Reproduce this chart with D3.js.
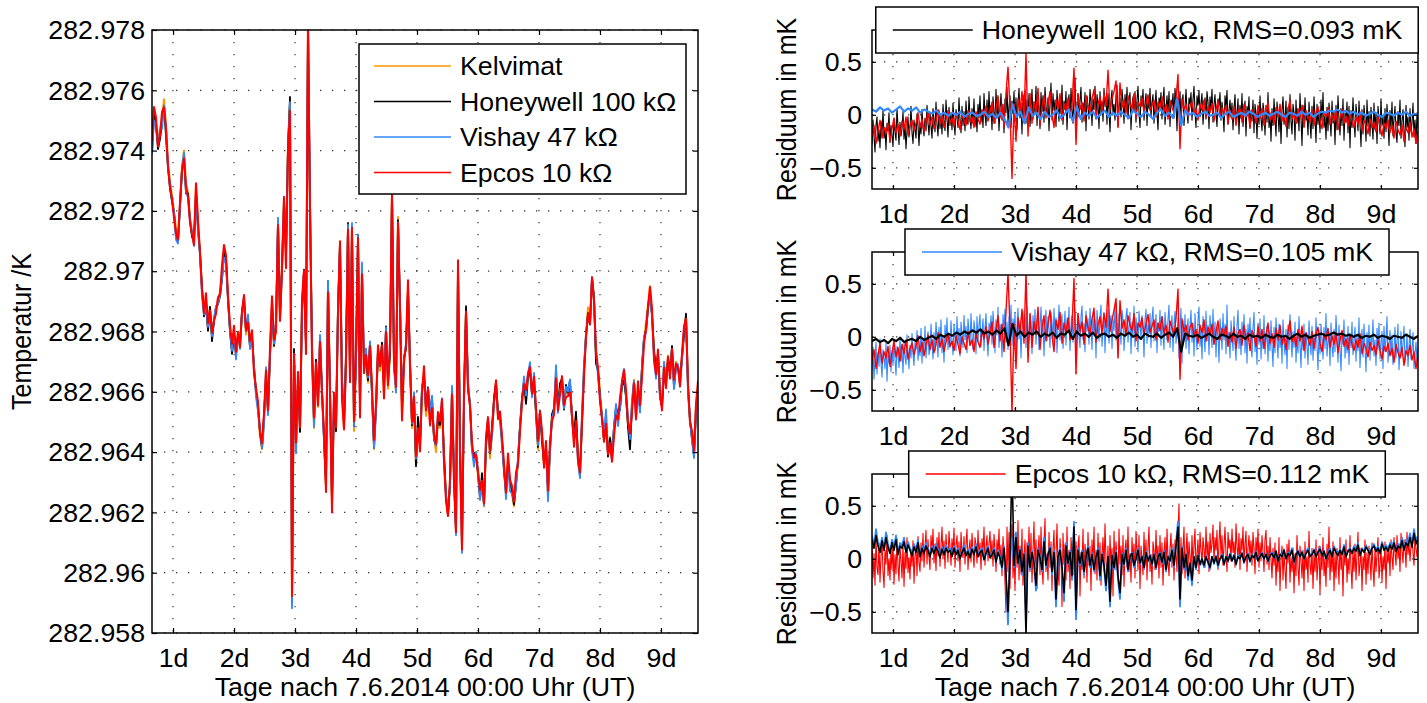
<!DOCTYPE html>
<html>
<head>
<meta charset="utf-8">
<script src="https://cdn.jsdelivr.net/npm/d3@7"></script>
<style>
html, body { margin: 0; padding: 0; background: #fff; }
svg { display: block; }
</style>
</head>
<body>
<svg id="fig" width="1427" height="703"></svg>
<script>
// ---- record span (days after 7.6.2014 00:00 UT), samples evenly spaced over it ----
const tStart = 0.655, tEnd = 9.607;
const dayTicks = [1, 2, 3, 4, 5, 6, 7, 8, 9];
const tempTicks = [282.958, 282.96, 282.962, 282.964, 282.966, 282.968, 282.97, 282.972, 282.974, 282.976, 282.978];
const resTicks = [-0.5, 0, 0.5];
const tempDomain = [282.958, 282.978];
const resDomain = [-0.7, 0.8];

const sensorNames = ["Kelvimat", "Honeywell 100 kΩ", "Vishay 47 kΩ", "Epcos 10 kΩ"];
const rmsValues = [0.093, 0.105, 0.112];   // mK, Honeywell / Vishay / Epcos

// Kelvimat reference temperature in K
const kelvimat = [
282.9742,282.9754,282.9749,282.9743,282.9747,282.9751,282.9757,282.9748,282.9736,282.9730,
282.9725,282.9720,282.9714,282.9711,282.9722,282.9735,282.9740,282.9729,282.9726,282.9718,
282.9713,282.9711,282.9728,282.9715,282.9707,282.9694,282.9687,282.9690,282.9681,282.9688,
282.9679,282.9684,282.9687,282.9691,282.9693,282.9699,282.9707,282.9703,282.9692,282.9681,
282.9674,282.9679,282.9672,282.9680,282.9676,282.9686,282.9690,282.9679,282.9684,282.9675,
282.9678,282.9667,282.9660,282.9654,282.9645,282.9641,282.9650,282.9666,282.9654,282.9672,
282.9690,282.9675,282.9681,282.9715,282.9684,282.9702,282.9724,282.9706,282.9742,282.9756,
282.9589,282.9672,282.9641,282.9663,282.9647,282.9688,282.9700,282.9676,282.9782,282.9722,
282.9674,282.9648,282.9668,282.9655,282.9678,282.9660,282.9645,282.9628,282.9695,282.9660,
282.9623,282.9657,282.9648,282.9687,282.9708,282.9662,282.9648,282.9671,282.9715,282.9666,
282.9714,282.9647,282.9672,282.9710,282.9655,282.9700,282.9668,282.9672,282.9663,282.9674,
282.9660,282.9641,282.9655,282.9673,282.9667,282.9675,282.9659,282.9680,282.9661,282.9674,
282.9725,282.9668,282.9660,282.9718,282.9688,282.9652,282.9672,282.9674,282.9694,282.9668,
282.9648,282.9657,282.9636,282.9649,282.9643,282.9660,282.9666,282.9652,282.9660,282.9650,
282.9657,282.9645,282.9640,282.9652,282.9648,282.9656,282.9637,282.9625,282.9619,282.9630,
282.9660,282.9632,282.9613,282.9701,282.9641,282.9609,282.9658,282.9686,282.9662,282.9655,
282.9641,282.9637,282.9640,282.9632,282.9625,282.9631,282.9622,282.9642,282.9650,282.9638,
282.9646,282.9657,282.9663,282.9652,282.9650,282.9643,282.9635,282.9626,282.9637,282.9629,
282.9626,282.9622,282.9630,282.9636,282.9648,282.9656,282.9663,282.9658,282.9665,282.9668,
282.9660,282.9664,282.9653,282.9641,282.9652,282.9645,282.9636,282.9641,282.9626,282.9641,
282.9652,282.9653,282.9667,282.9655,282.9662,282.9664,282.9655,282.9661,282.9659,282.9662,
282.9653,282.9645,282.9652,282.9638,282.9632,282.9652,282.9668,282.9679,282.9688,282.9683,
282.9697,282.9690,282.9672,282.9668,282.9660,282.9652,282.9645,282.9652,282.9640,282.9645,
282.9638,282.9648,282.9654,282.9651,282.9656,282.9663,282.9666,282.9659,282.9650,282.9644,
282.9656,282.9664,282.9653,282.9661,282.9656,282.9668,282.9677,282.9683,282.9689,282.9695,
282.9686,282.9673,282.9667,282.9672,282.9660,282.9656,282.9669,282.9664,282.9672,282.9666,
282.9674,282.9662,282.9670,282.9668,282.9663,282.9672,282.9680,282.9685,282.9662,282.9650,
282.9645,282.9641,282.9655,282.9662];

// Residuals in mK, panel 1 (Honeywell fit)
const hwPanelBlack = [
-.28,-.05,-.2,-.35,-.1,-.02,-.25,-.14,-.31,-.06,-.18,.04,-.22,-.12,-.33,-.08,-.15,.02,-.26,-.1,
-.19,-.3,-.04,-.16,-.24,.06,-.11,-.28,-.07,-.2,-.13,.03,-.23,-.09,-.32,-.15,-.02,-.21,-.12,.08,
-.17,-.27,-.05,-.14,-.22,.01,-.1,-.29,-.08,-.18,.05,-.12,-.2,-.03,-.15,.09,-.08,-.19,.02,-.11,
-.22,.06,-.05,-.16,.12,-.09,-.2,.04,-.13,-.01,-.18,.1,-.06,-.15,.14,-.03,-.21,.07,-.1,.02,
-.14,.11,-.07,-.19,.05,-.02,-.12,.16,-.05,-.17,.08,-.1,.03,-.15,.13,-.04,-.09,.17,-.02,-.13,
.06,-.08,.15,-.11,.02,-.16,.1,-.03,.18,-.07,.04,-.12,.2,.01,-.1,.14,-.05,.22,-.02,.09,
-.14,.17,.03,-.08,.24,-.01,.12,-.15,.06,.2,-.05,.1,-.17,.15,.02,.26,-.09,.08,.18,-.12,
.13,.01,.22,-.06,.16,-.14,.09,.25,-.03,.11,-.18,.19,.05,.23,-.08,.14,-.02,.2,-.11,.07,
.24,-.04,.12,.02,.27,-.1,.15,.06,-.13,.21,.03,.18,-.07,.26,.09,-.02,.16,-.15,.11,.3,
-.05,.2,.04,.14,-.11,.23,.07,-.06,.17,.01,.28,-.09,.13,.05,.22,-.14,.1,.19,-.03,.25,
.06,-.08,.16,.35,-.12,.09,.2,-.02,.14,.26,-.07,.11,.03,.21,-.15,.18,.08,-.04,.24,.12,
-.1,.15,.05,.27,-.03,.19,.1,-.13,.22,.02,.13,-.06,.25,.08,.17,-.09,.2,.04,-.16,.14,
.23,.01,.1,-.05,.18,.28,-.11,.07,.16,-.02,.24,.12,-.08,.19,.05,.26,-.04,.13,.21,-.14,
.09,.17,.03,.22,-.07,.14,.27,.02,-.12,.18,.08,.24,-.05,.11,.2,-.1,.15,.06,.25,-.02,
.12,.19,-.08,.07,.23,.01,-.14,.16,.1,.21,-.04,.13,.26,-.09,.05,.18,.02,.22,-.11,.14,
.08,.2,-.03,.25,.11,-.15,.17,.04,.22,-.06,.13,.19,-.1,.07,.24,.02,-.08,.16,.1,.21,
-.05,.14,.27,.03,-.12,.18,.09,.23,-.02,.11,.2,-.09,.06,.16,-.04,.22,.12,-.13,.17,.05,
.24,-.07,.1,.19,.01,-.11,.15,.08,.21,-.05,.12,.02,-.16,.18,.07,.23,-.09,.04,.14,-.02,
.11,-.14,.06,.19,-.08,.02,.15,-.18,.09,-.03,.2,-.11,.05,.13,-.2,.08,-.01,.17,-.13,.04,
-.06,.14,-.17,.1,.01,-.22,.07,-.09,.18,-.04,-.15,.11,.03,-.19,.09,-.07,.21,-.12,.02,-.25,
.06,-.1,.15,-.03,-.2,.12,.0,-.16,.08,-.27,.04,.17,-.09,-.02,.13,-.21,.07,-.13,.19,-.06,
-.18,.1,.02,-.24,.14,-.08,.05,-.15,.2,-.03,-.29,.09,-.11,.16,-.05,.01,-.19,.12,-.07,-.22,
.08,-.13,.17,-.02,-.26,.1,-.09,.04,-.17,.14,-.06,.21,-.12,-.01,-.23,.07,-.15,.11,-.04,-.2,
.13,-.08,.03,-.28,.09,-.14,.18,-.05,-.19,.06,-.1,.15,-.24,.02,-.07,.12,-.17,.08,-.31,.04,
-.12,.16,-.06,-.21,.1,-.02,-.15,.13,-.09,-.3,.05,-.18,.09,-.04,-.25,.14,-.11,.03,-.2,.07,
-.08,-.23,.11,-.14,.02,-.27,.08,-.05,-.18,.15,-.1,-.01,-.22,.06,-.16,.1,-.07,-.29,.04,-.13,
.12,-.2,-.04,.08,-.17,-.26,.03,-.1,.14,-.22,-.06,.05,-.15,-.3,.09,-.12,-.02,-.24,.06,-.16,
-.08,.11,-.21,-.05,-.27,.02,-.13];
const hwPanelRed = [
-.2,-.1,-.27,-.15,-.05,-.22,-.12,-.18,-.08,-.25,-.13,-.03,-.17,-.09,-.2,-.06,-.14,-.02,-.19,-.1,
-.05,-.15,-.08,.02,-.12,-.04,-.16,-.07,.03,-.1,-.02,-.13,-.06,.05,-.09,-.01,-.12,-.04,.04,-.08,
-.03,-.11,.02,-.06,-.14,.01,-.05,-.1,.04,-.07,-.02,-.12,.03,-.04,-.09,.05,-.01,.08,-.06,.02,
.12,-.08,.05,.18,-.03,.1,-.12,.2,.45,.05,-.6,.1,-.25,.15,.03,.22,-.05,.58,-.2,.2,
-.08,.12,.02,.25,-.1,.08,.18,-.03,.1,.22,.01,-.12,.14,.06,.2,-.05,.11,.03,.16,-.02,
.09,.44,-.28,.2,.05,.12,-.06,.18,.08,.02,.15,.24,-.04,.1,.17,.03,.2,.08,.42,.05,
.15,.22,.32,-.12,.3,.07,.14,.01,.18,.1,.06,.2,-.03,.12,.08,.16,.02,.11,.19,.04,
.09,.14,-.02,.12,.06,.17,.03,.1,-.04,.13,.07,.02,.15,.38,-.32,.15,.05,.1,-.02,.08,
.12,.01,.06,-.05,.1,.04,.14,-.03,.08,.02,.11,-.06,.05,.13,-.02,.07,.01,.09,-.08,.04,
-.04,.08,-.1,.03,.06,-.07,.1,-.02,.04,-.12,.05,.01,-.08,.09,-.03,.06,-.1,.02,.12,-.05,
.03,-.09,.07,-.02,.1,-.06,.01,-.11,.05,.14,-.04,.02,-.08,.06,-.03,.09,-.12,.04,-.01,-.07,
.05,-.1,.02,.08,-.05,-.13,.03,-.02,.07,-.09,.01,-.06,.04,-.14,-.03,.05,-.08,-.01,-.11,.02,
-.06,-.12,-.02,-.09,.03,-.15,-.05,-.1,-.18,-.04,-.12,-.07,-.16,-.02,-.11,-.2,-.08,-.13,-.05,-.17,
-.1,-.22,-.06,-.14,-.19,-.09,-.25,-.12,-.17,-.07,-.21,-.13,-.27,-.15];
const hwPanelBlue = [
.05,.03,.07,.04,.06,.02,.05,.08,.03,.06,.04,.07,.02,.05,.03,.01,.04,.0,.02,-.01,
.02,.0,.03,-.02,.01,.02,-.01,.0,.03,-.02,.01,-.03,.02,-.04,-.12,.1,-.02,.03,-.08,.07,
-.01,.02,-.04,.03,-.02,.0,.04,-.03,.01,.05,-.06,.08,-.04,.02,-.01,.03,-.03,.01,.04,-.02,
.02,-.01,.03,.0,-.03,.04,.01,-.02,.03,.0,-.04,.02,.05,-.01,.02,-.03,.15,-.1,.04,.0,
.02,-.02,.01,.03,-.01,.0,.02,-.03,.01,.03,-.02,.0,.02,-.01,.03,.01,-.02,.0,.02,-.01,
.01,.03,.0,-.02,.02,.01,-.01,.03,.0,.02,-.02,.01,.03,.02,.04,.03,.05,.02,.04,.01,
.03,.0,.02,-.01,.01,.03,.0,-.02,.02,.01,-.01,.02,.0,.03,-.01,.01,.0];

// Residuals in mK, panel 2 (Vishay fit)
const vsPanelBlue = [
-.32,-.1,-.4,-.22,-.05,-.35,-.15,-.28,-.02,-.24,-.38,-.12,-.2,-.3,-.06,-.42,-.17,-.25,-.08,-.33,
-.14,-.27,-.03,-.21,-.36,-.09,-.18,-.29,.0,-.23,-.12,-.34,-.06,-.19,-.26,.02,-.15,-.3,-.08,-.2,
.03,-.16,-.27,-.05,-.12,.06,-.22,-.09,-.18,.08,-.25,-.03,-.14,.1,-.2,-.07,.05,-.17,-.11,.12,
-.06,-.21,.04,-.13,.14,-.02,-.19,.09,-.08,.16,-.15,.0,-.24,.11,-.05,.18,-.12,.03,-.1,.15,
-.04,-.17,.12,.01,-.13,.19,-.06,.08,-.18,.14,.02,-.1,.2,-.03,.1,-.15,.17,.04,-.08,.22,
.0,-.12,.15,.06,-.16,.19,-.04,.11,.21,-.09,.03,.17,-.13,.08,.22,-.02,-.18,.13,.05,.2,
-.07,.24,.09,-.15,.16,.02,.28,-.1,.12,.04,-.19,.21,.07,.26,-.05,.14,-.12,.19,.01,.3,
-.08,.17,.05,.23,-.14,.1,.27,-.02,.15,-.2,.08,.24,.01,.18,-.1,.29,.06,-.05,.21,.12,
-.16,.2,.03,.26,-.07,.13,.22,-.12,.09,.28,.0,.16,-.18,.11,.25,-.04,.19,.07,-.1,.23,
.14,-.06,.27,.02,.18,-.15,.1,.3,-.03,.13,.21,-.11,.06,.24,-.08,.17,.04,.28,-.13,.11,
.2,-.05,.15,.26,-.17,.08,.22,.01,-.1,.19,.29,-.02,.12,-.14,.24,.05,.17,-.07,.27,.09,
-.12,.21,.03,.16,-.2,.25,.1,-.04,.18,.3,-.09,.07,.23,-.15,.14,.02,.26,-.06,.12,.2,
-.11,.17,.06,.28,-.03,.13,-.18,.22,.09,-.07,.25,.15,-.13,.04,.19,.27,-.05,.1,.23,-.16,
.14,.01,.29,-.09,.18,.06,-.14,.24,.11,-.02,.2,.08,-.19,.16,.26,-.06,.12,.03,.22,-.1,
.17,.28,-.04,.09,.21,-.15,.13,.05,.25,-.08,.19,.02,-.12,.23,.1,-.03,.16,.3,-.1,.07,
.2,-.14,.12,.24,-.06,.04,.18,-.2,.09,.27,-.25,.15,-.02,.21,-.11,.06,.17,-.16,.1,.25,
-.05,.13,-.18,.22,.0,-.12,.16,.28,-.09,.07,-.21,.19,.03,-.14,.24,-.04,.11,-.17,.2,.05,
-.1,.26,-.07,.14,-.19,.09,.01,-.24,.17,.06,-.12,.22,-.03,.12,-.16,.3,-.08,.04,-.2,.15,
.02,-.13,.19,-.06,-.22,.1,.25,-.11,.05,-.17,.14,-.02,.21,-.15,.07,-.25,.12,-.04,.18,-.09,
-.19,.08,.23,-.14,.01,-.26,.13,-.07,.17,-.21,.04,-.11,.2,-.16,-.03,.1,-.23,.06,-.13,.15,
-.08,-.28,.09,-.15,.18,-.04,-.2,.12,-.1,.02,-.25,.16,-.06,-.17,.07,-.3,.11,-.12,.21,-.02,
-.19,.05,-.1,.14,-.24,.0,-.15,.19,-.07,-.29,.08,-.12,.12,-.2,.03,-.09,-.26,.15,-.04,-.17,
.1,-.22,.01,-.13,.18,-.08,-.31,.06,-.16,.12,-.03,-.21,.09,-.11,.22,-.18,-.05,.04,-.27,.13,
-.09,-.19,.07,-.14,.2,-.02,-.24,.11,-.12,-.32,.05,-.07,.16,-.2,.0,-.15,.1,-.26,.03,-.1,
.14,-.17,-.04,.09,-.23,.02,-.13,.18,-.29,-.06,.07,-.19,.12,-.1,-.33,.04,-.15,.11,-.22,.0,
-.08,.16,-.18,-.03,-.27,.08,-.12,.13,-.21,-.05,.05,-.3,.1,-.14,-.02,.19,-.24,-.09,.06,-.17,
.02,-.26,-.11,.09,-.2,-.04,.12,-.31,-.13,.05,-.18,-.07,.1,-.24,-.15,.03,-.28,-.09,.07,-.21,
-.12,.04,-.3,-.16,-.05,-.23,-.1];
const vsPanelRed = [
-.22,-.12,-.3,-.17,-.06,-.25,-.14,-.2,-.09,-.28,-.15,-.04,-.19,-.1,-.23,-.07,-.16,-.03,-.21,-.11,
-.06,-.17,-.09,.01,-.14,-.05,-.18,-.08,.02,-.12,-.03,-.15,-.07,.04,-.1,-.02,-.14,-.05,.03,-.09,
-.04,-.13,.01,-.07,-.16,.0,-.06,-.12,.05,-.08,-.03,-.14,.04,-.05,-.1,.06,-.02,.1,-.07,.03,
.14,-.1,.06,.2,-.04,.12,-.14,.24,.6,.08,-.72,.12,-.3,.18,.04,.26,-.06,.62,-.24,.22,
-.1,.14,.02,.28,-.12,.09,.2,-.04,.12,.25,.01,-.14,.16,.07,.23,-.06,.13,.03,.18,-.03,
.1,.55,-.35,.22,.05,.14,-.07,.2,.09,.02,.17,.27,-.05,.11,.19,.03,.22,.09,.45,.05,
.16,.25,.36,-.2,.34,.08,.16,.01,.2,.11,.06,.22,-.04,.13,.09,.18,.02,.12,.21,.04,
.1,.16,-.03,.13,.06,.19,.03,.11,-.05,.15,.08,.02,.17,.45,-.4,.17,.05,.11,-.03,.09,
.13,.01,.07,-.06,.11,.04,.16,-.04,.09,.02,.12,-.07,.05,.15,-.03,.08,.01,.1,-.09,.04,
-.05,.09,-.11,.03,.07,-.08,.11,-.03,.04,-.13,.06,.01,-.09,.1,-.04,.07,-.11,.02,.13,-.06,
.03,-.1,.08,-.03,.11,-.07,.01,-.12,.05,.15,-.05,.02,-.09,.07,-.04,.1,-.13,.04,-.02,-.08,
.05,-.11,.02,.09,-.06,-.14,.03,-.03,.08,-.1,.01,-.07,.04,-.15,-.04,.06,-.09,-.02,-.12,.02,
-.07,-.13,-.03,-.1,.03,-.16,-.06,-.11,-.19,-.05,-.13,-.08,-.17,-.03,-.12,-.21,-.09,-.14,-.06,-.18,
-.11,-.24,-.07,-.15,-.2,-.1,-.27,-.13,-.18,-.08,-.22,-.14,-.3,-.16];
const vsPanelBlack = [
-.04,-.02,-.05,-.03,-.06,-.02,-.04,-.01,-.05,-.03,-.02,-.04,.0,-.03,-.01,.01,-.02,.02,.0,.03,
.01,.04,.02,.05,.03,.06,.04,.07,.03,.05,.02,.06,.03,.08,-.08,.12,.01,.05,.0,.04,
.02,.05,.0,.03,.01,.04,-.01,.03,.02,.06,-.02,.05,.01,.03,.0,.04,-.01,.02,.03,.0,
.02,-.01,.03,.01,.04,.0,.02,-.02,.03,.01,.0,.03,-.01,.02,.04,.0,.08,-.14,.03,.01,
.0,.02,-.01,.01,.03,.0,-.02,.02,.01,-.01,.03,.0,.01,-.02,.02,.0,.01,-.01,.02,.0,
-.01,.02,.0,.01,-.02,.01,.03,.0,.02,-.01,.01,.02,.03,.01,.02,.04,.02,.03,.01,.02,
.0,.02,-.01,.01,.0,.02,-.01,.01,.0,-.02,.01,.0,-.01,.02,.0,-.02,.01];

// Residuals in mK, panel 3 (Epcos fit)
const epPanelRed = [
.12,-.18,.05,-.25,.2,-.08,-.15,.15,-.22,.02,.18,-.12,-.27,.08,-.05,.22,-.16,.0,-.2,.1,
-.1,.16,-.24,.04,-.14,.19,-.06,-.21,.11,-.02,-.18,.14,-.26,.06,-.09,.2,-.13,.01,-.19,.09,
-.07,.17,-.23,.03,.12,-.16,.21,-.04,-.12,.15,-.02,.24,-.08,.1,.27,-.05,.18,.02,-.1,.22,
.06,.28,-.04,.14,-.11,.2,.03,.25,-.07,.12,.3,.0,.17,-.09,.23,.08,-.03,.26,.11,-.06,
.19,.04,.29,-.08,.13,.22,-.02,.16,-.12,.25,.07,.01,.21,-.05,.14,.28,-.1,.09,.18,-.03,
.24,.06,-.08,.2,.12,-.04,.27,.02,.15,-.1,.19,.05,.3,-.06,.11,.22,-.02,.14,.26,.0,
.17,-.07,.23,.09,-.12,.18,.03,.28,-.05,.13,-.16,.21,.06,-.22,-.5,.3,-.12,.25,-.28,.1,
.32,-.18,.05,-.3,.22,-.08,.36,-.2,.12,-.14,.28,-.25,.02,.18,-.35,.15,-.05,.3,-.12,.24,
-.22,.08,.35,-.1,.18,-.28,.05,.22,-.15,.3,-.06,-.24,.13,.38,-.12,.04,-.2,.25,-.08,.16,
-.3,.1,.27,-.16,.02,.33,-.1,-.25,.19,.06,-.45,.24,-.05,.14,-.2,.3,-.12,.08,-.28,.2,
.04,-.15,.32,-.08,.16,-.26,.1,.22,-.35,.06,-.1,.28,-.18,.14,.02,-.22,.25,-.06,.12,-.3,
.18,-.04,.3,-.14,.08,-.2,.24,-.09,.15,-.25,.05,.2,-.12,.33,-.02,-.18,.12,-.28,.22,-.06,
.1,-.35,.26,-.1,.16,.02,-.2,.28,-.05,.12,-.15,.22,-.26,.08,.18,-.08,.3,-.12,.05,-.22,
.2,-.03,.14,-.18,.26,.06,-.1,.22,-.28,.12,.0,-.15,.25,-.06,.18,-.2,.1,.3,-.12,.04,
-.24,.16,.08,-.1,.27,-.04,.12,-.18,.22,-.08,.15,-.25,.05,.2,-.12,.28,-.02,-.16,.1,.24,
-.08,.14,-.2,.18,.04,-.12,.26,.52,-.3,.2,-.14,.1,.3,-.18,.06,.24,-.1,.16,.02,-.12,
.22,-.06,.12,.28,-.1,.04,.18,-.14,.25,.08,-.05,.2,.1,-.08,.3,.02,.16,-.12,.24,.06,
.14,.32,-.04,.2,.08,.27,-.1,.15,.35,.02,.22,-.06,.12,.3,.05,-.12,.25,.1,.18,-.02,
.28,.06,.16,-.08,.33,.12,.0,.24,-.1,.19,.08,.3,-.04,.14,.26,-.12,.1,.22,.02,.17,
-.06,.25,.1,-.14,.2,.04,.28,-.08,.15,-.02,.22,.06,-.12,.18,.27,-.05,.12,-.1,.2,.0,
-.18,.1,-.06,.15,-.25,.04,-.12,.2,-.3,.0,.12,-.2,.06,-.1,-.28,.14,-.04,.18,-.22,.02,
-.12,.1,-.32,.05,-.16,.22,-.08,-.25,.12,-.02,-.18,.08,-.3,.16,-.1,.02,-.22,.26,-.06,-.15,
.1,-.28,.04,-.12,.18,-.2,-.04,.12,-.33,.06,-.1,.2,-.16,.0,-.26,.14,-.08,.3,-.2,.04,
-.12,.16,-.3,.06,-.18,.1,-.02,-.24,.2,-.1,.04,-.35,.12,-.06,.18,-.22,.0,-.14,.22,-.08,
-.28,.08,-.12,.14,-.2,.04,.25,-.16,-.05,.1,-.3,.02,-.1,.18,-.24,.06,-.14,.12,-.02,-.2,
.15,-.08,-.26,.1,-.12,.04,.2,-.18,-.06,.12,-.22,.02,-.1,.16,-.28,.08,-.04,.1,-.16,.18,
.02,-.1,.2,.06,-.06,.22,.0,.14,-.12,.24,.08,-.04,.18,.1,-.08,.25,.04,.16,-.02,.12,
.2,.06,-.06,.22,.1,.02,.16];
const epPanelBlue = [
.22,.12,.28,.15,.08,.2,.1,.25,.14,.06,.18,.1,.22,.05,.15,.12,.2,.08,.16,.1,
.04,.14,.08,.18,.02,.12,.07,.15,.1,.03,.12,.06,.14,.09,.02,.11,.05,.13,.08,.1,
.03,.12,.06,.1,.0,.08,.13,.04,.09,.02,.11,.06,.14,.03,.08,.1,.0,.07,.12,.02,
.05,.1,-.03,.08,.02,-.1,.12,-.2,-.62,.05,.2,-.08,.25,-.05,.1,-.15,.05,-.55,.15,-.1,
.08,-.05,-.3,.1,.02,-.12,.2,-.08,.05,.12,-.15,.08,-.45,.02,.1,-.1,-.4,.15,-.05,.08,
-.2,.35,-.57,.1,-.05,.08,-.15,.02,.12,-.08,.05,-.12,.03,.1,-.2,.05,-.08,-.3,.02,-.45,
.04,-.1,.08,-.2,-.38,.05,-.06,.1,-.12,.02,.06,-.08,.0,.1,-.05,.03,-.1,.07,-.02,.04,
-.06,.05,-.1,.02,.06,-.04,.08,-.12,.03,-.02,.1,-.08,.15,.35,-.45,.12,-.1,.05,-.2,-.05,
-.25,.02,-.1,.04,-.06,.0,-.08,.03,-.04,-.1,.02,-.05,.03,-.08,.0,.04,-.06,.02,-.03,.05,
-.02,.04,-.06,.03,.0,.06,-.04,.02,.05,-.03,.04,.01,.07,-.02,.03,.06,.0,.05,-.03,.04,
.06,.01,.08,-.02,.05,.03,.09,.0,.06,.04,.1,-.04,.05,.08,.02,.07,.0,.06,.1,.03,
.05,.09,.02,.07,.11,.04,.08,.0,.06,.1,.03,.12,.07,.04,.09,.05,.13,.02,.08,.1,
.06,.12,.08,.15,.04,.1,.07,.13,.09,.05,.11,.14,.08,.12,.06,.16,.1,.13,.09,.15,
.11,.17,.08,.14,.12,.2,.1,.18,.15,.24,.13,.28,.17,.22];
const epPanelBlack = [
.18,.1,.22,.12,.06,.17,.08,.2,.11,.05,.15,.08,.18,.04,.12,.1,.16,.06,.13,.08,
.03,.11,.06,.15,.02,.1,.05,.12,.08,.02,.1,.05,.11,.07,.01,.09,.04,.1,.06,.08,
.02,.1,.04,.08,.0,.06,.1,.03,.07,.01,.09,.04,.11,.02,.06,.08,-.01,.05,.1,.01,
.04,.08,-.03,.06,.01,-.08,.1,-.15,-.5,.03,.9,-.06,.2,-.04,.08,-.12,.04,-.72,.12,-.08,
.06,-.04,-.25,.08,.01,-.1,.16,-.06,.04,.1,-.12,.06,-.38,.02,.08,-.08,-.32,.12,-.04,.06,
-.16,.3,-.48,.08,-.04,.06,-.12,.02,.1,-.06,.04,-.1,.02,.08,-.16,.04,-.06,-.25,.02,-.4,
.03,-.08,.06,-.16,-.32,.04,-.05,.08,-.1,.02,.05,-.06,.0,.08,-.04,.02,-.08,.06,-.02,.03,
-.05,.04,-.08,.02,.05,-.03,.06,-.1,.02,-.02,.08,-.06,.12,.3,-.38,.1,-.08,.04,-.16,-.04,
-.2,.02,-.08,.03,-.05,.0,-.06,.02,-.03,-.08,.02,-.04,.02,-.06,.0,.03,-.05,.02,-.02,.04,
-.02,.03,-.05,.02,.0,.05,-.03,.02,.04,-.02,.03,.01,.06,-.02,.02,.05,.0,.04,-.02,.03,
.05,.01,.07,-.02,.04,.02,.08,.0,.05,.03,.08,-.03,.04,.07,.02,.06,.0,.05,.08,.02,
.04,.08,.02,.06,.09,.03,.07,.0,.05,.08,.02,.1,.06,.03,.08,.04,.11,.02,.07,.09,
.05,.1,.07,.13,.03,.09,.06,.11,.08,.04,.1,.12,.07,.1,.05,.14,.08,.11,.07,.13,
.09,.15,.07,.12,.1,.17,.08,.15,.12,.2,.11,.24,.14,.19];

// ---- styling ----
const FONT_FAMILY = '"Liberation Sans", Arial, Helvetica, sans-serif';
const FONT = 25, SX = 1.07;           // glyphs are drawn slightly wide
const COLORS = { kelvimat: "#FF9900", honeywell: "#000000", vishay: "#3388FF", epcos: "#FF0000" };
const GRID_DASH = "1.3 10.7";

const svg = d3.select("#fig").attr("font-family", FONT_FAMILY);

// time stamps for an evenly sampled series of length n
const timesFor = n => d3.range(n).map(i => tStart + i * (tEnd - tStart) / (n - 1));
// residual sample taken at the same time stamp as sample i of an n-point series
const atSameTime = (res, i, n) => res[Math.round(i * (res.length - 1) / (n - 1))];

function addText(g, x, y, str, anchor, rot) {
  const holder = g.append("g")
    .attr("transform", `translate(${x},${y}) scale(${SX},1)` + (rot ? ` rotate(${rot})` : ""));
  return holder.append("text")
    .attr("text-anchor", anchor)
    .attr("font-size", FONT)
    .attr("fill", "#000")
    .text(str);
}

function makeAxes(box, yDomain, yTicks, yFmt, yLabelGap, tickLen, clipId) {
  const x = d3.scaleLinear().domain([tStart, tEnd]).range([box.x, box.x + box.w]);
  const y = d3.scaleLinear().domain(yDomain).range([box.y + box.h, box.y]);
  const g = svg.append("g");

  svg.append("clipPath").attr("id", clipId)
    .append("rect").attr("x", box.x).attr("y", box.y).attr("width", box.w).attr("height", box.h);

  g.append("rect").attr("x", box.x).attr("y", box.y).attr("width", box.w).attr("height", box.h).attr("fill", "#fff");

  // dotted grid
  const grid = g.append("g").attr("stroke", "#333").attr("stroke-width", 1.2).attr("stroke-dasharray", GRID_DASH);
  grid.selectAll("line.v").data(dayTicks).join("line").attr("class", "v")
    .attr("x1", d => x(d)).attr("x2", d => x(d)).attr("y1", box.y).attr("y2", box.y + box.h);
  grid.selectAll("line.h").data(yTicks).join("line").attr("class", "h")
    .attr("x1", box.x).attr("x2", box.x + box.w).attr("y1", d => y(d)).attr("y2", d => y(d));

  const dataLayer = g.append("g").attr("clip-path", `url(#${clipId})`);
  const frame = svg.append("g");
  return { x, y, g, dataLayer, frame, box, yTicks, yFmt, yLabelGap, tickLen };
}

function finishAxes(ax) {
  const { x, y, frame, box, yTicks, yFmt, yLabelGap, tickLen } = ax;
  const styleAxis = sel => {
    sel.attr("font-size", FONT).attr("font-family", FONT_FAMILY);
    sel.select(".domain").remove();
    sel.selectAll(".tick line").attr("stroke", "#000").attr("stroke-width", 1.2);
    sel.selectAll(".tick text").attr("fill", "#000");
  };
  const bottom = frame.append("g").attr("transform", `translate(0,${box.y + box.h})`)
    .call(d3.axisBottom(x).tickValues(dayTicks).tickSize(-tickLen).tickPadding(16).tickFormat(d => d + "d"));
  styleAxis(bottom);
  bottom.selectAll(".tick text").attr("transform", `scale(${SX},1)`);

  const top = frame.append("g").attr("transform", `translate(0,${box.y})`)
    .call(d3.axisTop(x).tickValues(dayTicks).tickSize(-tickLen).tickFormat(""));
  styleAxis(top);

  const left = frame.append("g").attr("transform", `translate(${box.x},0)`)
    .call(d3.axisLeft(y).tickValues(yTicks).tickSize(-tickLen).tickPadding(yLabelGap).tickFormat(yFmt));
  styleAxis(left);
  left.selectAll(".tick text").attr("transform", `scale(${SX},1)`).attr("x", -yLabelGap / SX).attr("dy", "0.35em");

  const right = frame.append("g").attr("transform", `translate(${box.x + box.w},0)`)
    .call(d3.axisRight(y).tickValues(yTicks).tickSize(-tickLen).tickFormat(""));
  styleAxis(right);

  frame.append("rect").attr("x", box.x).attr("y", box.y).attr("width", box.w).attr("height", box.h)
    .attr("fill", "none").attr("stroke", "#000").attr("stroke-width", 1.5);
}

function drawSeries(ax, values, color, width) {
  const t = timesFor(values.length);
  const line = d3.line().x((d, i) => ax.x(t[i])).y(d => ax.y(d));
  ax.dataLayer.append("path").datum(values)
    .attr("fill", "none").attr("stroke", color).attr("stroke-width", width)
    .attr("stroke-linejoin", "round").attr("d", line);
}

// ---------------- left: temperatures ----------------
const tempFmt = d3.format(".3~f");
const axT = makeAxes({ x: 152, y: 30, w: 546, h: 603 }, tempDomain, tempTicks, tempFmt, 7, 5, "clipT");

// each sensor = reference + its own residual (mK -> K)
const nT = kelvimat.length;
const honeywellT = kelvimat.map((v, i) => v + atSameTime(hwPanelBlack, i, nT) / 1000);
const vishayT = kelvimat.map((v, i) => v + atSameTime(vsPanelBlue, i, nT) / 1000);
const epcosT = kelvimat.map((v, i) => v + atSameTime(epPanelRed, i, nT) / 1000);

drawSeries(axT, kelvimat, COLORS.kelvimat, 2);
drawSeries(axT, honeywellT, COLORS.honeywell, 1.8);
drawSeries(axT, vishayT, COLORS.vishay, 1.8);
drawSeries(axT, epcosT, COLORS.epcos, 2);
finishAxes(axT);

addText(svg, 31, 331.5, "Temperatur /K", "middle", -90);
addText(svg, 425, 696, "Tage nach 7.6.2014 00:00 Uhr (UT)", "middle");

// legend of the temperature plot
{
  const lg = svg.append("g");
  lg.append("rect").attr("x", 359).attr("y", 44).attr("width", 327).attr("height", 150)
    .attr("fill", "#fff").attr("stroke", "#000").attr("stroke-width", 1.5);
  const colors = [COLORS.kelvimat, COLORS.honeywell, COLORS.vishay, COLORS.epcos];
  sensorNames.forEach((name, k) => {
    const yy = 66 + k * 35.5;
    lg.append("line").attr("x1", 374).attr("x2", 451).attr("y1", yy).attr("y2", yy)
      .attr("stroke", colors[k]).attr("stroke-width", 1.3);
    addText(lg, 460, yy + 9, name, "start");
  });
}

// ---------------- right: residual panels ----------------
const resFmt = d => d === 0 ? "0" : (d < 0 ? "\u2212" : "") + d3.format("~g")(Math.abs(d));
// [values, colour, stroke width]; the first series of a panel is the panel's own sensor
const panels = [
  { box: { x: 872, y: 30, w: 546, h: 159 }, name: sensorNames[1], rms: rmsValues[0], color: COLORS.honeywell,
    series: [[hwPanelBlack, COLORS.honeywell, 1.1], [hwPanelRed, COLORS.epcos, 1.4], [hwPanelBlue, COLORS.vishay, 2.2]] },
  { box: { x: 872, y: 252, w: 546, h: 159 }, name: sensorNames[2], rms: rmsValues[1], color: COLORS.vishay,
    series: [[vsPanelBlue, COLORS.vishay, 1.1], [vsPanelRed, COLORS.epcos, 1.4], [vsPanelBlack, COLORS.honeywell, 2.2]] },
  { box: { x: 872, y: 474, w: 546, h: 159 }, name: sensorNames[3], rms: rmsValues[2], color: COLORS.epcos,
    series: [[epPanelRed, COLORS.epcos, 1.1], [epPanelBlue, COLORS.vishay, 1.8], [epPanelBlack, COLORS.honeywell, 1.6]] }
];

panels.forEach((p, k) => {
  const ax = makeAxes(p.box, resDomain, resTicks, resFmt, 10, 4, "clipR" + k);
  p.series.forEach(([vals, col, w]) => drawSeries(ax, vals, col, w));
  finishAxes(ax);
  addText(svg, 796, p.box.y + p.box.h / 2, "Residuum in mK", "middle", -90);

  // legend box centred on the top edge of the panel
  const lg = svg.append("g");
  const label = `${p.name}, RMS=${d3.format(".3f")(p.rms)} mK`;
  const rect = lg.append("rect");
  const line = lg.append("line");
  const txt = addText(lg, 0, 0, label, "start");
  const textW = txt.node().getComputedTextLength() * SX;
  const boxW = 106 + textW + 16, boxH = 46;
  const bx = 1147 - boxW / 2, by = p.box.y - boxH / 2;
  rect.attr("x", bx).attr("y", by).attr("width", boxW).attr("height", boxH)
    .attr("fill", "#fff").attr("stroke", "#000").attr("stroke-width", 1.5);
  line.attr("x1", bx + 17).attr("x2", bx + 97).attr("y1", p.box.y).attr("y2", p.box.y)
    .attr("stroke", p.color).attr("stroke-width", 1.3);
  txt.node().parentNode.setAttribute("transform", `translate(${bx + 106},${p.box.y + 9}) scale(${SX},1)`);
});

addText(svg, 1145, 696, "Tage nach 7.6.2014 00:00 Uhr (UT)", "middle");
</script>
</body>
</html>
